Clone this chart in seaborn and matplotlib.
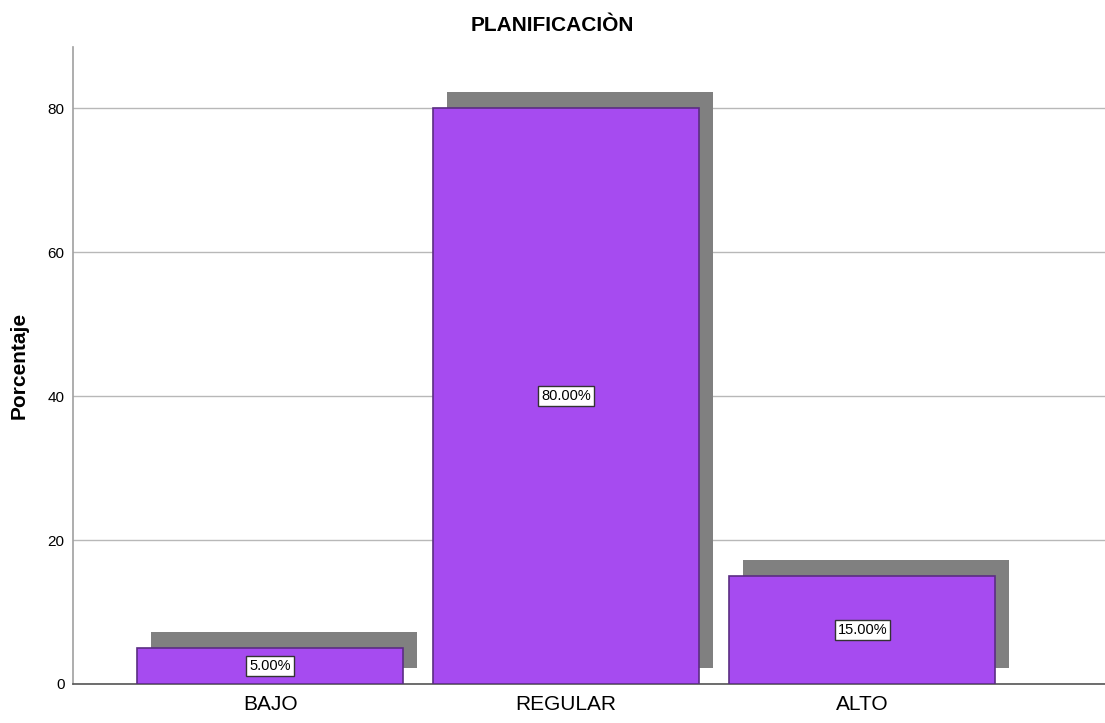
import pandas as pd
import seaborn as sns
import matplotlib.pyplot as plt
import matplotlib.patheffects as pe

categorias = ['BAJO', 'REGULAR', 'ALTO']
porcentajes = [5.0, 80.0, 15.0]
etiquetas = ['5.00%', '80.00%', '15.00%']
yticks = [0, 20, 40, 60, 80]

df = pd.DataFrame({'nivel': categorias, 'pct': porcentajes})

sns.set_style('white')
plt.rcParams['font.family'] = ['Liberation Sans', 'DejaVu Sans']
plt.rcParams['text.color'] = 'black'
plt.rcParams['xtick.color'] = 'black'
plt.rcParams['ytick.color'] = 'black'
plt.rcParams['axes.labelcolor'] = 'black'

fig = plt.figure(figsize=(11.05, 7.23), dpi=100)
ax = fig.add_axes([0.066, 0.054, 0.934, 0.881])

sns.barplot(data=df, x='nivel', y='pct', color='#a64bf0', saturation=1,
            edgecolor='#5b2d83', linewidth=1.2, width=0.9, ax=ax, zorder=3)

# sombra gris desplazada arriba a la derecha
for p in ax.patches:
    p.set_path_effects([pe.SimplePatchShadow(offset=(10.1, 11.5),
                                             shadow_rgbFace='#808080',
                                             alpha=1.0),
                        pe.Normal()])

for i, (v, t) in enumerate(zip(porcentajes, etiquetas)):
    ax.text(i, v / 2, t, ha='center', va='center', fontsize=10.5, zorder=5,
            color='black',
            bbox=dict(boxstyle='square,pad=0.2', fc='white', ec='#333333', lw=1))

ax.set_xlim(-0.666, 2.82)
ax.set_ylim(0, 88.5)
ax.set_yticks(yticks)
ax.yaxis.grid(True, color='#b8b8b8', linewidth=1.0, zorder=0)
ax.set_axisbelow(True)
ax.tick_params(axis='both', length=0)
ax.tick_params(axis='y', labelsize=11, pad=6)
ax.tick_params(axis='x', labelsize=15, pad=8)

for s in ['top', 'right']:
    ax.spines[s].set_visible(False)
ax.spines['left'].set_color('#a0a0a0')
ax.spines['left'].set_linewidth(1.2)
ax.spines['bottom'].set_color('#555555')
ax.spines['bottom'].set_linewidth(1.2)

ax.set_xlabel('')
ax.set_ylabel('Porcentaje', fontsize=15, fontweight='bold', labelpad=14)
fig.suptitle('PLANIFICACIÒN', x=0.5, y=0.978, va='top', fontsize=15,
             fontweight='bold')

fig.savefig('out.png', dpi=100)
